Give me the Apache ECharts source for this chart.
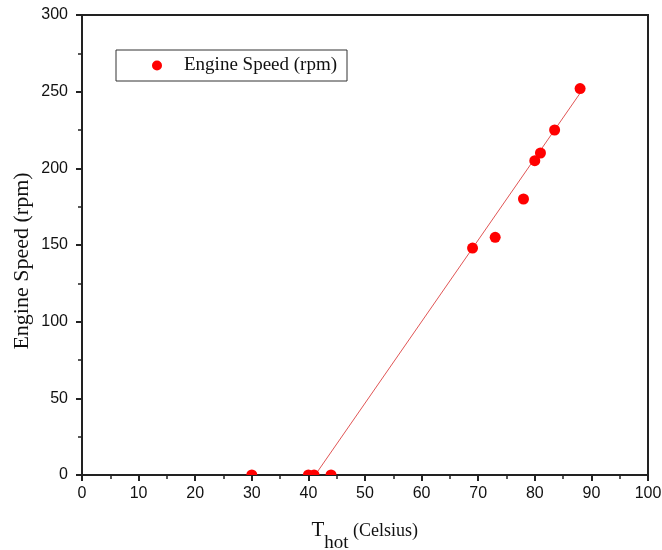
<!DOCTYPE html>
<html>
<head>
<meta charset="utf-8">
<script src="https://cdn.jsdelivr.net/npm/echarts@6/dist/echarts.min.js"></script>
<style>html,body{margin:0;padding:0;background:#fff}#c{width:662px;height:550px}</style>
</head>
<body>
<div id="c"></div>
<script>
// Measured data (T_hot in Celsius, engine speed in rpm)
const tHot = [30, 40, 41, 44, 69, 73, 78, 80, 81, 83.5, 88];
const speed = [0, 0, 0, 0, 148, 155, 180, 205, 210, 225, 252];
// Linear fit line endpoints
const fitX = [41.2, 88];
const fitY = [0, 249];
const xTicks = [0, 10, 20, 30, 40, 50, 60, 70, 80, 90, 100];
const yTicks = [0, 50, 100, 150, 200, 250, 300];

const chart = echarts.init(document.getElementById('c'), null, {renderer: 'canvas'});
const axisCol = '#222';
const serif = '"Liberation Serif", "Times New Roman", serif';
const sans = '"Liberation Sans", Arial, sans-serif';

chart.setOption({
  animation: false,
  backgroundColor: '#fff',
  grid: {left: 82, right: 14, top: 15, bottom: 75, show: true, borderColor: axisCol, borderWidth: 2,
         backgroundColor: 'transparent', containLabel: false, outerBoundsMode: 'none'},
  legend: {
    left: 116, top: 50,
    data: [{name: 'Engine Speed (rpm)', icon: 'circle'}],
    itemWidth: 44, itemHeight: 10,
    borderColor: '#333', borderWidth: 1,
    padding: [6, 10, 6, 36],
    textStyle: {fontFamily: serif, fontSize: 19, color: '#111'}
  },
  xAxis: {
    type: 'value', min: xTicks[0], max: xTicks[xTicks.length - 1], interval: 10,
    name: '{t|T}{s|hot}{c| (Celsius)}{sp| }',
    nameLocation: 'middle', nameGap: 45, nameMoveOverlap: false,
    nameTextStyle: {
      rich: {
        t: {fontFamily: serif, fontSize: 21, color: '#111', verticalAlign: 'top', lineHeight: 20},
        s: {fontFamily: serif, fontSize: 19, color: '#111', verticalAlign: 'bottom', lineHeight: 20},
        c: {fontFamily: serif, fontSize: 18, color: '#111', verticalAlign: 'top', lineHeight: 20, padding: [2, 0, 0, 0]},
        sp: {fontSize: 2, lineHeight: 33, verticalAlign: 'top'}
      }
    },
    axisLine: {lineStyle: {color: axisCol, width: 2}},
    axisTick: {inside: false, length: 6, lineStyle: {color: axisCol, width: 2}},
    minorTick: {show: true, splitNumber: 2, length: 4, lineStyle: {color: axisCol, width: 1.5}},
    axisLabel: {fontFamily: sans, fontSize: 16, color: '#111', margin: 11},
    splitLine: {show: false}
  },
  yAxis: {
    type: 'value', min: yTicks[0], max: yTicks[yTicks.length - 1], interval: 50,
    name: 'Engine Speed (rpm)',
    nameLocation: 'middle', nameGap: 49, nameMoveOverlap: false,
    nameTextStyle: {fontFamily: serif, fontSize: 22, color: '#111', padding: [0, 32, 0, 0]},
    axisLine: {lineStyle: {color: axisCol, width: 2}},
    axisTick: {inside: false, length: 6, lineStyle: {color: axisCol, width: 2}},
    minorTick: {show: true, splitNumber: 2, length: 4, lineStyle: {color: axisCol, width: 1.5}},
    axisLabel: {fontFamily: sans, fontSize: 16, color: '#111', margin: 14},
    splitLine: {show: false}
  },
  series: [
    {
      name: 'Fit', type: 'line', data: fitX.map((x, i) => [x, fitY[i]]),
      symbol: 'none', lineStyle: {color: '#e05555', width: 1}, z: 1, silent: true
    },
    {
      name: 'Engine Speed (rpm)', type: 'custom', clip: true,
      data: tHot.map((x, i) => [x, speed[i]]),
      itemStyle: {color: '#ff0000'},
      encode: {x: 0, y: 1},
      renderItem: function (params, api) {
        const p = api.coord([api.value(0), api.value(1)]);
        return {type: 'circle', shape: {cx: p[0], cy: p[1], r: 5.5}, style: {fill: '#ff0000'}};
      },
      z: 3
    }
  ]
});
</script>
</body>
</html>
